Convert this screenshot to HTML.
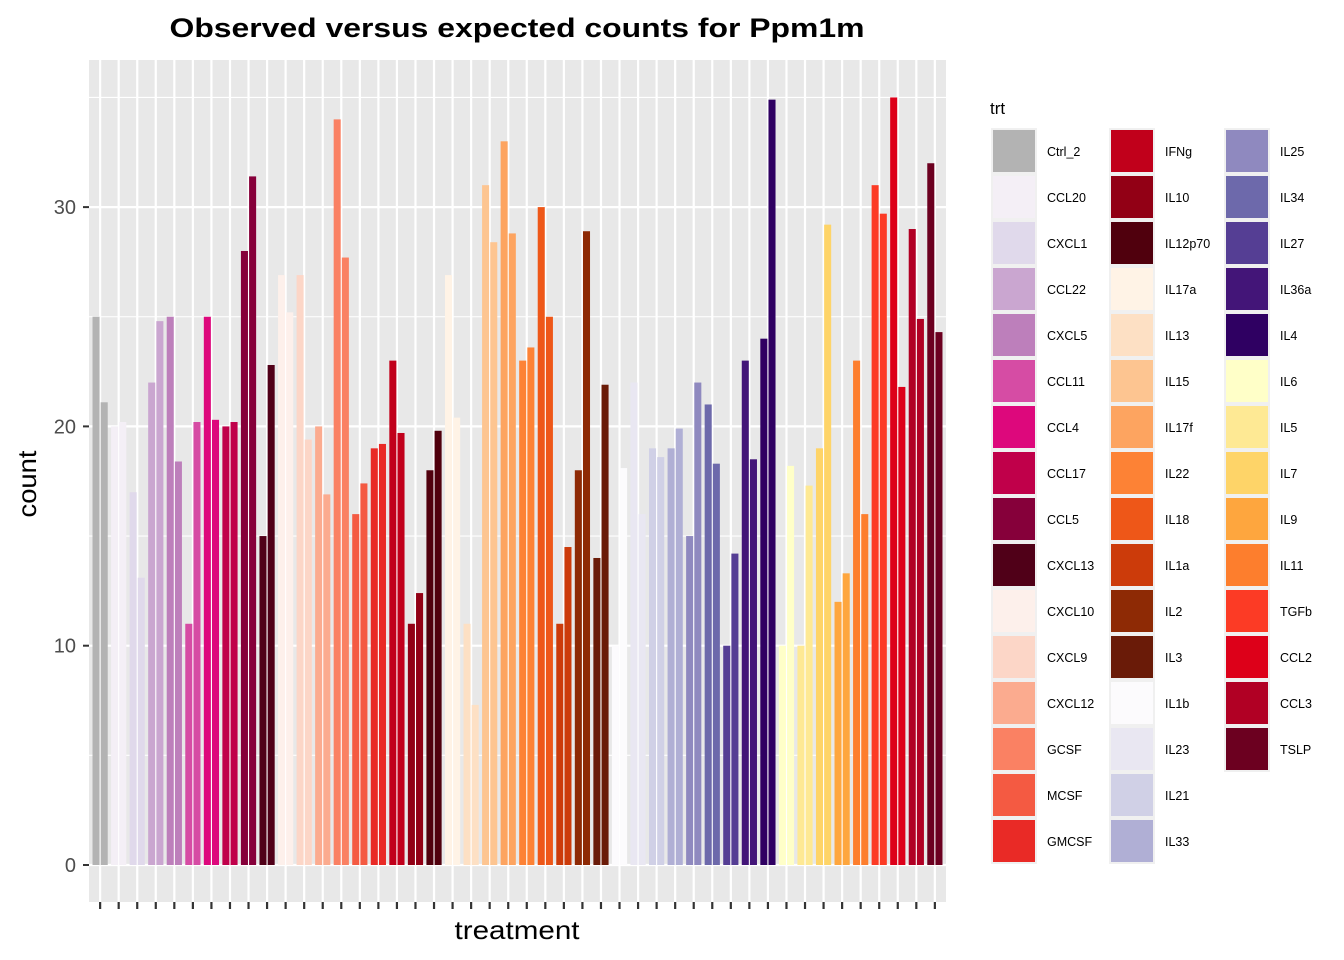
<!DOCTYPE html>
<html><head><meta charset="utf-8"><style>
body{margin:0;background:#fff;}
svg{display:block;font-family:"Liberation Sans",Arial,sans-serif;}
</style></head><body>
<svg id="chart" width="1344" height="960">
<rect x="89" y="60" width="857" height="842" fill="#e8e8e8"/>
<g id="grid"></g><g id="bars"></g><g id="axes"></g><g id="legend"></g>
<text x="517" y="37" text-anchor="middle" font-size="27" font-weight="bold" fill="#000" textLength="695" lengthAdjust="spacingAndGlyphs">Observed versus expected counts for Ppm1m</text>
<text x="517" y="939" text-anchor="middle" font-size="26" fill="#000" textLength="125" lengthAdjust="spacingAndGlyphs">treatment</text>
<text transform="translate(36,484) rotate(-90)" text-anchor="middle" font-size="26" fill="#000" textLength="67" lengthAdjust="spacingAndGlyphs">count</text>
</svg>
<script>
const categories=["Ctrl_2","CCL20","CXCL1","CCL22","CXCL5","CCL11","CCL4","CCL17","CCL5","CXCL13","CXCL10","CXCL9","CXCL12","GCSF","MCSF","GMCSF","IFNg","IL10","IL12p70","IL17a","IL13","IL15","IL17f","IL22","IL18","IL1a","IL2","IL3","IL1b","IL23","IL21","IL33","IL25","IL34","IL27","IL36a","IL4","IL6","IL5","IL7","IL9","IL11","TGFb","CCL2","CCL3","TSLP"];
const colors=["#b3b3b3","#f4eff6","#e0d9eb","#caa6d0","#bd7fbb","#d64ca4","#dd087c","#c0004a","#86003a","#500018","#fdf0eb","#fcd6c7","#fbab8f","#fa8163","#f45a42","#e92a26","#c1001b","#920015","#50000d","#fff3e6","#fde0c4","#fdc591","#fda460","#fd8235","#ee5718","#cc3b0a","#8e2a05","#6a1b08","#fcfbfd","#e9e7f2","#d0d0e6","#b0afd5","#8f89bf","#6d69ab","#553e94","#431578","#2f0062","#ffffc8","#fee994","#fed468","#fea63e","#fd7e2d","#fc3b25","#dd0019","#b10024","#6c0020"];
const observed=[25,20,17,22,25,11,25,20,28,15,26.9,26.9,20,34,16,19,23,11,18,26.9,11,31,33,23,30,11,18,14,10,22,19,19,15,21,10,23,24,10,10,19,12,23,31,35,29,32];
const expected=[21.1,20.2,13.1,24.8,18.4,20.2,20.3,20.2,31.4,22.8,25.2,19.4,16.9,27.7,17.4,19.2,19.7,12.4,19.8,20.4,7.3,28.4,28.8,23.6,25,14.5,28.9,21.9,18.1,16,18.6,19.9,22,18.3,14.2,18.5,34.9,18.2,17.3,29.2,13.3,16,29.7,21.8,24.9,24.3];
const yMajor=[0,10,20,30];
const yMinor=[5,15,25,35];
const NS="http://www.w3.org/2000/svg";
const X0=89,W=857,n=categories.length,step=W/(n+0.2);
const xc=i=>X0+step*(0.6+i);
const y=v=>865-v*21.93;
function mk(tag,attrs,parent){const e=document.createElementNS(NS,tag);for(const k in attrs)e.setAttribute(k,attrs[k]);parent.appendChild(e);return e;}
const grid=document.getElementById('grid'),bars=document.getElementById('bars'),axes=document.getElementById('axes'),leg=document.getElementById('legend');
yMinor.forEach(v=>{const l=mk('line',{x1:89,x2:946,y1:y(v),y2:y(v),stroke:'#fff','stroke-width':1.1},grid);

});
yMajor.forEach(v=>{const l=mk('line',{x1:89,x2:946,y1:y(v),y2:y(v),stroke:'#fff','stroke-width':2.2},grid);


const t=mk('text',{x:76,y:y(v)+7,'text-anchor':'end','font-size':20,fill:'#4d4d4d'},axes);t.textContent=v;


const tk=mk('line',{x1:83,x2:89,y1:y(v),y2:y(v),stroke:'#333','stroke-width':2},axes);

});
const bw=step*0.38;
categories.forEach((c,i)=>{
 const g=mk('line',{x1:xc(i),x2:xc(i),y1:60,y2:902,stroke:'#fff','stroke-width':2.2},grid);
 
 
 const tk=mk('line',{x1:xc(i),x2:xc(i),y1:902,y2:909,stroke:'#333','stroke-width':2.2},axes);
 
 
 const b1=mk('rect',{x:xc(i)-0.41*step,y:y(observed[i]),width:bw,height:y(0)-y(observed[i]),fill:colors[i]},bars);
 
 
 const b2=mk('rect',{x:xc(i)+0.03*step,y:y(expected[i]),width:bw,height:y(0)-y(expected[i]),fill:colors[i]},bars);
 
 
});
const lt=mk('text',{x:990,y:114,'font-size':17,fill:'#000'},leg);lt.textContent='trt';


const colX=[991,1109,1224],perCol=16;
categories.forEach((c,i)=>{
 const col=Math.floor(i/perCol),row=i%perCol,x=colX[col],yy=128+row*46;
 const bg=mk('rect',{x:x,y:yy,width:46,height:46,fill:'#f0f0f0'},leg);
 
 
 const k=mk('rect',{x:x+2,y:yy+2,width:42,height:42,fill:colors[i]},leg);
 
 
 const t=mk('text',{x:x+56,y:yy+28,'font-size':12.5,fill:'#000'},leg);t.textContent=c;
 
 
});
</script>
</body></html>
